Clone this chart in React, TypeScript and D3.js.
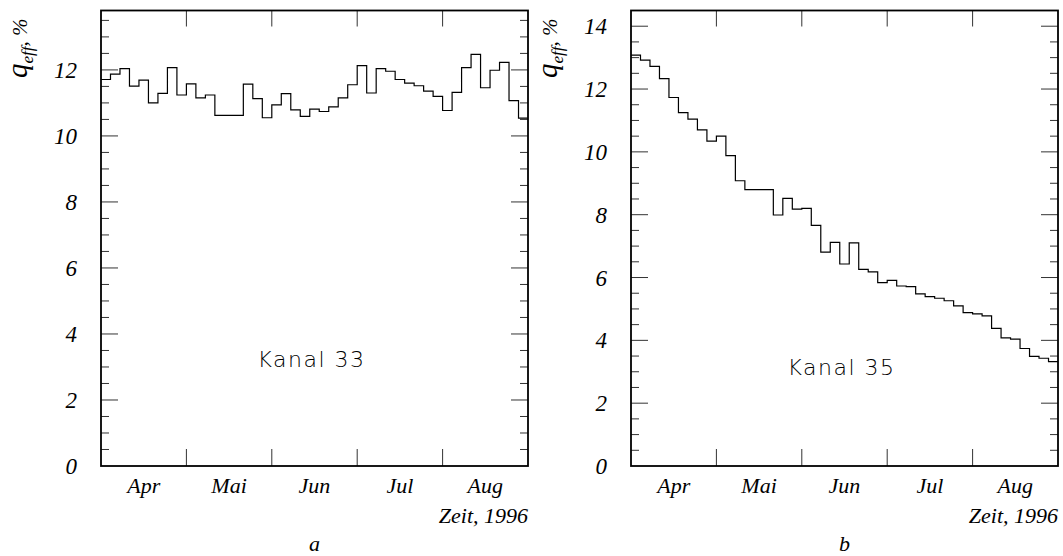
import React from 'react';
import * as d3 from 'd3';

// month labels on the time axis
const months = ['Apr', 'Mai', 'Jun', 'Jul', 'Aug'];

// q_eff per bin, Kanal 33 (panel a)
const kanal33 = [
  11.71, 11.87, 12.04, 11.51, 11.69, 11.0, 11.29, 12.07, 11.24, 11.58,
  11.15, 11.24, 10.62, 10.62, 10.62, 11.57, 11.13, 10.55, 10.94, 11.28,
  10.79, 10.59, 10.81, 10.74, 10.88, 11.15, 11.55, 12.13, 11.3, 12.04,
  11.96, 11.71, 11.6, 11.52, 11.36, 11.2, 10.77, 11.32, 12.07, 12.47,
  11.46, 11.99, 12.23, 11.07, 10.54,
];

// q_eff per bin, Kanal 35 (panel b)
const kanal35 = [
  13.08, 12.92, 12.72, 12.33, 11.73, 11.25, 11.04, 10.7, 10.34, 10.5,
  9.88, 9.08, 8.8, 8.8, 8.8, 7.99, 8.52, 8.18, 8.2, 7.66,
  6.81, 7.12, 6.43, 7.1, 6.26, 6.18, 5.84, 5.91, 5.73, 5.71,
  5.48, 5.39, 5.34, 5.26, 5.1, 4.88, 4.84, 4.78, 4.38, 4.08,
  4.04, 3.74, 3.49, 3.43, 3.32,
];

const ticksA = [0, 2, 4, 6, 8, 10, 12];
const ticksB = [0, 2, 4, 6, 8, 10, 12, 14];

const TOP = 10.5;
const BOTTOM = 466;
const serif = '"Liberation Serif", "DejaVu Serif", serif';

interface PanelProps {
  x0: number;
  x1: number;
  values: number[];
  yMax: number;
  yTicks: number[];
  kanal: string;
  kanalY: number;
  letter: string;
}

const Panel: React.FC<PanelProps> = ({ x0, x1, values, yMax, yTicks, kanal, kanalY, letter }) => {
  const x = d3.scaleLinear().domain([0, values.length]).range([x0, x1]);
  const xm = d3.scaleBand().domain(months).range([x0, x1]);
  const y = d3.scaleLinear().domain([0, yMax]).range([BOTTOM, TOP]);

  const pts: [number, number][] = values.map((v, i) => [i, v] as [number, number]);
  pts.push([values.length, values[values.length - 1]]);
  const line = d3.line<[number, number]>()
    .x(d => x(d[0]))
    .y(d => y(d[1]))
    .curve(d3.curveStepAfter);

  const minor = d3.range(0.5, yMax, 0.5).filter(v => v % 2 !== 0);
  const bounds = months.slice(1).map(m => xm(m) as number);
  const cx = (x0 + x1) / 2;
  const tickCol = '#333';

  return (
    <g>
      {/* y ticks, both sides, pointing inward */}
      {minor.map(v => (
        <g key={'m' + v} stroke={tickCol} strokeWidth={1}>
          <line x1={x0} x2={x0 + 8} y1={y(v)} y2={y(v)} />
          <line x1={x1} x2={x1 - 8} y1={y(v)} y2={y(v)} />
        </g>
      ))}
      {yTicks.filter(v => v > 0).map(v => (
        <g key={'M' + v} stroke={tickCol} strokeWidth={1}>
          <line x1={x0} x2={x0 + 17} y1={y(v)} y2={y(v)} />
          <line x1={x1} x2={x1 - 17} y1={y(v)} y2={y(v)} />
        </g>
      ))}
      {/* month ticks top and bottom */}
      {bounds.map((bx, i) => (
        <g key={'x' + i} stroke={tickCol} strokeWidth={1}>
          <line x1={bx} x2={bx} y1={TOP} y2={TOP + 16} />
          <line x1={bx} x2={bx} y1={BOTTOM} y2={BOTTOM - 17} />
        </g>
      ))}

      <path d={line(pts) || ''} fill="none" stroke="#000" strokeWidth={1.2} />

      <rect x={x0} y={TOP} width={x1 - x0} height={BOTTOM - TOP}
        fill="none" stroke="#000" strokeWidth={1.8} />

      {/* tick labels */}
      {yTicks.map(v => (
        <text key={'l' + v} x={x0 - 24} y={y(v)} dy="0.35em" textAnchor="end"
          fontFamily={serif} fontStyle="italic" fontSize={23}>{v}</text>
      ))}
      {months.map(m => (
        <text key={m} x={(xm(m) as number) + xm.bandwidth() / 2} y={493} textAnchor="middle"
          fontFamily={serif} fontStyle="italic" fontSize={22}>{m}</text>
      ))}
      <text x={x1} y={523} textAnchor="end" fontFamily={serif} fontStyle="italic" fontSize={22}>
        Zeit, 1996
      </text>
      <text x={cx} y={551} textAnchor="middle" fontFamily={serif} fontStyle="italic" fontSize={22}>
        {letter}
      </text>

      {/* y axis title */}
      <text transform={`translate(${x0 - 74},78) rotate(-90)`} fontFamily={serif} fontStyle="italic">
        <tspan fontSize={29}>q</tspan>
        <tspan fontSize={17} dy={6}>eff</tspan>
        <tspan fontSize={21} dy={-6}>, %</tspan>
      </text>

      <text x={cx - 3} y={y(kanalY)} textAnchor="middle" fontFamily='"DejaVu Sans", sans-serif'
        fontWeight={200} fontSize={22} letterSpacing={1.5}>{kanal}</text>
    </g>
  );
};

export default function App() {
  return (
    <svg width={1063} height={556} style={{ position: 'absolute', left: 0, top: 0, background: '#fff' }}>
      <Panel x0={101} x1={528} values={kanal33} yMax={13.8} yTicks={ticksA}
        kanal="Kanal 33" kanalY={3.0} letter="a" />
      <Panel x0={631} x1={1058} values={kanal35} yMax={14.5} yTicks={ticksB}
        kanal="Kanal 35" kanalY={2.9} letter="b" />
    </svg>
  );
}
